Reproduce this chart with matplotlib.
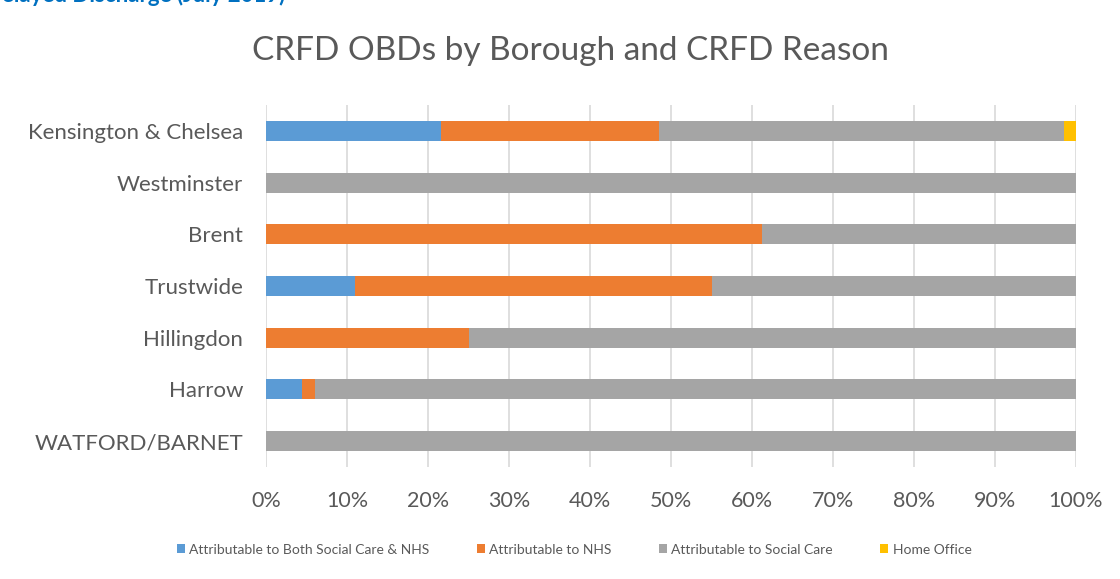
import matplotlib
matplotlib.use("Agg")
import matplotlib.pyplot as plt
from matplotlib.patches import Patch
from matplotlib.ticker import PercentFormatter

# Boroughs listed top to bottom
boroughs = ["Kensington & Chelsea", "Westminster", "Brent", "Trustwide",
            "Hillingdon", "Harrow", "WATFORD/BARNET"]

# Share of CRFD occupied bed days by reason (%)
both_sc_nhs = [21.6, 0.0, 0.0, 11.0, 0.0, 4.4, 0.0]
nhs = [26.9, 0.0, 61.2, 44.0, 25.1, 1.7, 0.0]
social_care = [50.0, 100.0, 38.8, 45.0, 74.9, 93.9, 100.0]
home_office = [1.5, 0.0, 0.0, 0.0, 0.0, 0.0, 0.0]

series_names = ["Attributable to Both Social Care & NHS", "Attributable to NHS",
                "Attributable to Social Care", "Home Office"]
series_values = [both_sc_nhs, nhs, social_care, home_office]
colors = ["#5b9bd5", "#ed7d31", "#a5a5a5", "#ffc000"]

x_ticks = list(range(0, 101, 10))

FONT = ["Lato", "DejaVu Sans"]
TEXT = "#595959"
plt.rcParams["font.family"] = FONT

fig = plt.figure(figsize=(11.2, 5.79), dpi=100)
ax = fig.add_axes([266 / 1120, 1 - 467 / 579, 810 / 1120, 362 / 579])

y = list(range(len(boroughs)))
left = [0.0] * len(boroughs)
for vals, col in zip(series_values, colors):
    ax.barh(y, vals, left=left, height=0.385, color=col, zorder=3)
    left = [a + b for a, b in zip(left, vals)]

ax.set_xlim(0, 100)
ax.set_ylim(len(boroughs) - 0.5, -0.5)
ax.set_xticks(x_ticks)
ax.xaxis.set_major_formatter(PercentFormatter(decimals=0))
ax.set_yticks(y)
ax.set_yticklabels(boroughs)
ax.grid(axis="x", color="#d9d9d9", linewidth=1.2, zorder=0)
for s in ax.spines.values():
    s.set_visible(False)
ax.tick_params(axis="both", length=0, colors=TEXT)
ax.tick_params(axis="y", pad=16.5, labelsize=16)
ax.tick_params(axis="x", pad=17.5, labelsize=15.5)

fig.text(570 / 1120, 1 - 51 / 579, "CRFD OBDs by Borough and CRFD Reason",
         ha="center", va="center", fontsize=24, color=TEXT)

# Section heading running off the top edge of the page
fig.text(285 / 1120, 1 - 1.5 / 579, "Delayed Discharge (July 2019)", ha="right",
         va="baseline", fontsize=16, fontweight="bold", color="#0070c0")

handles = [Patch(facecolor=c, edgecolor="none") for c in colors]
fig.legend(handles, series_names, loc="center", bbox_to_anchor=(574 / 1120, 1 - 549.5 / 579),
           ncol=4, frameon=False, fontsize=10, labelcolor=TEXT,
           handlelength=0.6, handleheight=0.6, handletextpad=0.3, columnspacing=3.4)

fig.savefig("out.png", dpi=100, facecolor="white")
